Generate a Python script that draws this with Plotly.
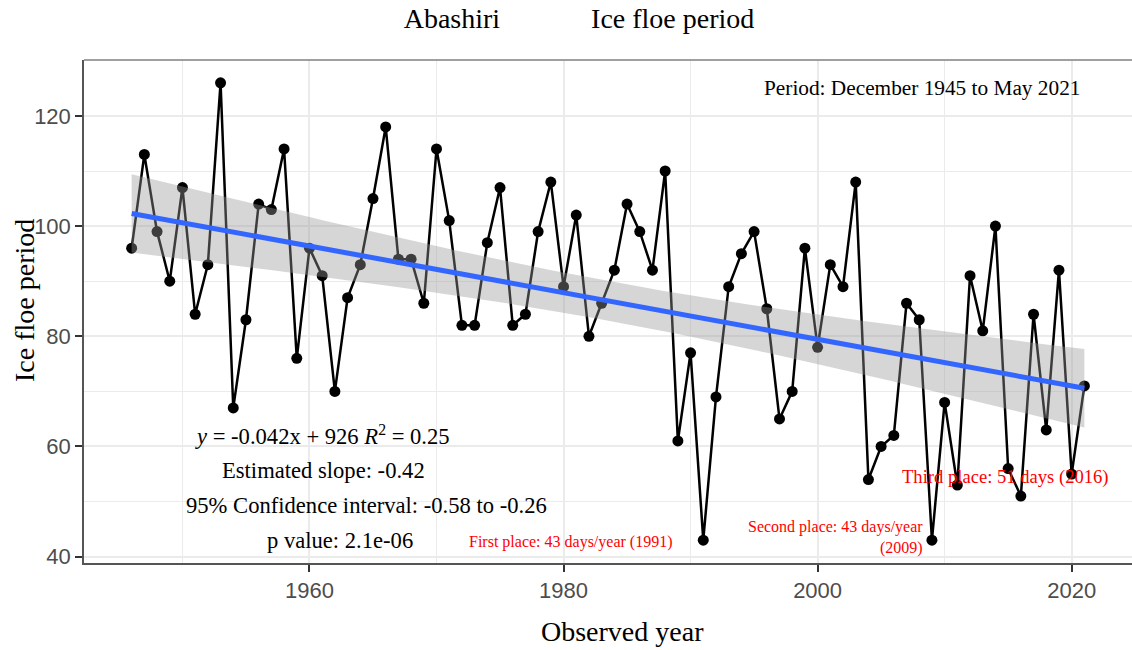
import numpy as np
import plotly.graph_objects as go

years = list(range(1946, 2022))
ice_days = [96, 113, 99, 90, 107, 84, 93, 126, 67, 83,
            104, 103, 114, 76, 96, 91, 70, 87, 93, 105,
            118, 94, 94, 86, 114, 101, 82, 82, 97, 107,
            82, 84, 99, 108, 89, 102, 80, 86, 92, 104,
            99, 92, 110, 61, 77, 43, 69, 89, 95, 99,
            85, 65, 70, 96, 78, 93, 89, 108, 54, 60,
            62, 86, 83, 43, 68, 53, 91, 81, 100, 56,
            51, 84, 63, 92, 55, 71]

x_ticks = [1960, 1980, 2000, 2020]
y_ticks = [40, 60, 80, 100, 120]

stat_lines = ["<i>y</i> = -0.042x + 926 <i>R</i><sup>2</sup> = 0.25",
              "Estimated slope: -0.42",
              "95% Confidence interval: -0.58 to -0.26",
              "p value: 2.1e-06"]
stat_pos = [(1961.0, 62.1), (1961.1, 55.6), (1964.5, 49.2), (1962.4, 42.9)]

x = np.array(years, dtype=float)
y = np.array(ice_days, dtype=float)
n = len(x)
slope, intercept = np.polyfit(x, y, 1)
xg = np.linspace(x.min(), x.max(), 80)
yg = slope * xg + intercept
resid = y - (slope * x + intercept)
s = np.sqrt(np.sum(resid ** 2) / (n - 2))
sxx = np.sum((x - x.mean()) ** 2)
t_crit = 1.99254
se = s * np.sqrt(1.0 / n + (xg - x.mean()) ** 2 / sxx)
upper = yg + t_crit * se
lower = yg - t_crit * se

serif = "Liberation Serif, Times New Roman, serif"
sans = "Liberation Sans, Arial, sans-serif"

fig = go.Figure()
fig.add_trace(go.Scatter(x=years, y=ice_days, mode="lines+markers",
                         line=dict(color="black", width=2.5),
                         marker=dict(color="black", size=11),
                         showlegend=False, hoverinfo="x+y"))
fig.add_trace(go.Scatter(x=np.concatenate([xg, xg[::-1]]),
                         y=np.concatenate([upper, lower[::-1]]),
                         fill="toself", fillcolor="rgba(153,153,153,0.4)",
                         line=dict(width=0), mode="lines",
                         showlegend=False, hoverinfo="skip"))
fig.add_trace(go.Scatter(x=xg, y=yg, mode="lines",
                         line=dict(color="#3366FF", width=5),
                         showlegend=False, hoverinfo="skip"))

annotations = []
for txt, (ax, ay) in zip(stat_lines, stat_pos):
    annotations.append(dict(x=ax, y=ay, xref="x", yref="y", text=txt,
                            showarrow=False, xanchor="center", yanchor="middle",
                            font=dict(family=serif, size=22.6, color="black")))
annotations.append(dict(x=2008.24, y=125.1, xref="x", yref="y",
                        text="Period: December 1945 to May 2021",
                        showarrow=False, xanchor="center", yanchor="middle",
                        font=dict(family=serif, size=21.3, color="black")))
annotations.append(dict(x=1980.56, y=42.7, xref="x", yref="y",
                        text="First place: 43 days/year (1991)",
                        showarrow=False, xanchor="center", yanchor="middle",
                        font=dict(family=serif, size=16, color="red")))
annotations.append(dict(x=2008.49, y=43.4, xref="x", yref="y",
                        text="Second place: 43 days/year<br>(2009)", align="right",
                        showarrow=False, xanchor="right", yanchor="middle",
                        font=dict(family=serif, size=16, color="red")))
annotations.append(dict(x=2014.77, y=54.4, xref="x", yref="y",
                        text="Third place: 51 days (2016)",
                        showarrow=False, xanchor="center", yanchor="middle",
                        font=dict(family=serif, size=18.6, color="red")))
# axis titles
annotations.append(dict(x=(24 - 84) / 1048, y=(563 - 301) / 503, xref="paper", yref="paper",
                        text="Ice floe period", textangle=-90,
                        showarrow=False, xanchor="center", yanchor="middle",
                        font=dict(family=serif, size=28, color="black")))
annotations.append(dict(x=(622 - 84) / 1048, y=(563 - 631) / 503, xref="paper", yref="paper",
                        text="Observed year",
                        showarrow=False, xanchor="center", yanchor="middle",
                        font=dict(family=serif, size=28, color="black")))

fig.update_layout(
    width=1132, height=650,
    margin=dict(l=84, r=0, t=60, b=87, autoexpand=False),
    paper_bgcolor="white", plot_bgcolor="white",
    title=dict(text="Abashiri" + "\u00a0" * 13 + "Ice floe period",
               x=579 / 1132, xref="container", xanchor="center",
               y=1 - 18 / 650, yref="container", yanchor="middle",
               font=dict(family=serif, size=28, color="black")),
    annotations=annotations,
    shapes=[dict(type="line", xref="paper", yref="paper", x0=0, x1=1, y0=1, y1=1,
                 line=dict(color="#808080", width=1.5))],
    xaxis=dict(range=[1942.25, 2024.75], tickvals=x_ticks,
               showgrid=True, gridcolor="#EBEBEB", gridwidth=1.5,
               minor=dict(dtick=10, tick0=1950, showgrid=True, gridcolor="#EBEBEB", gridwidth=0.8),
               showline=True, linecolor="#555555", linewidth=1.5,
               ticks="outside", ticklen=7, tickwidth=1.5, tickcolor="#333333",
               tickfont=dict(family=sans, size=22, color="#4D4D4D"),
               zeroline=False, automargin=False),
    yaxis=dict(range=[38.85, 130.15], tickvals=y_ticks,
               showgrid=True, gridcolor="#EBEBEB", gridwidth=1.5,
               minor=dict(dtick=20, tick0=50, showgrid=True, gridcolor="#EBEBEB", gridwidth=0.8),
               showline=True, linecolor="#555555", linewidth=1.5,
               ticks="outside", ticklen=7, tickwidth=1.5, tickcolor="#333333",
               tickfont=dict(family=sans, size=22, color="#4D4D4D"),
               zeroline=False, automargin=False),
)

fig.write_html("out.html", config={"displayModeBar": False},
               post_script="document.body.style.margin='0px';document.body.style.overflow='hidden';")
